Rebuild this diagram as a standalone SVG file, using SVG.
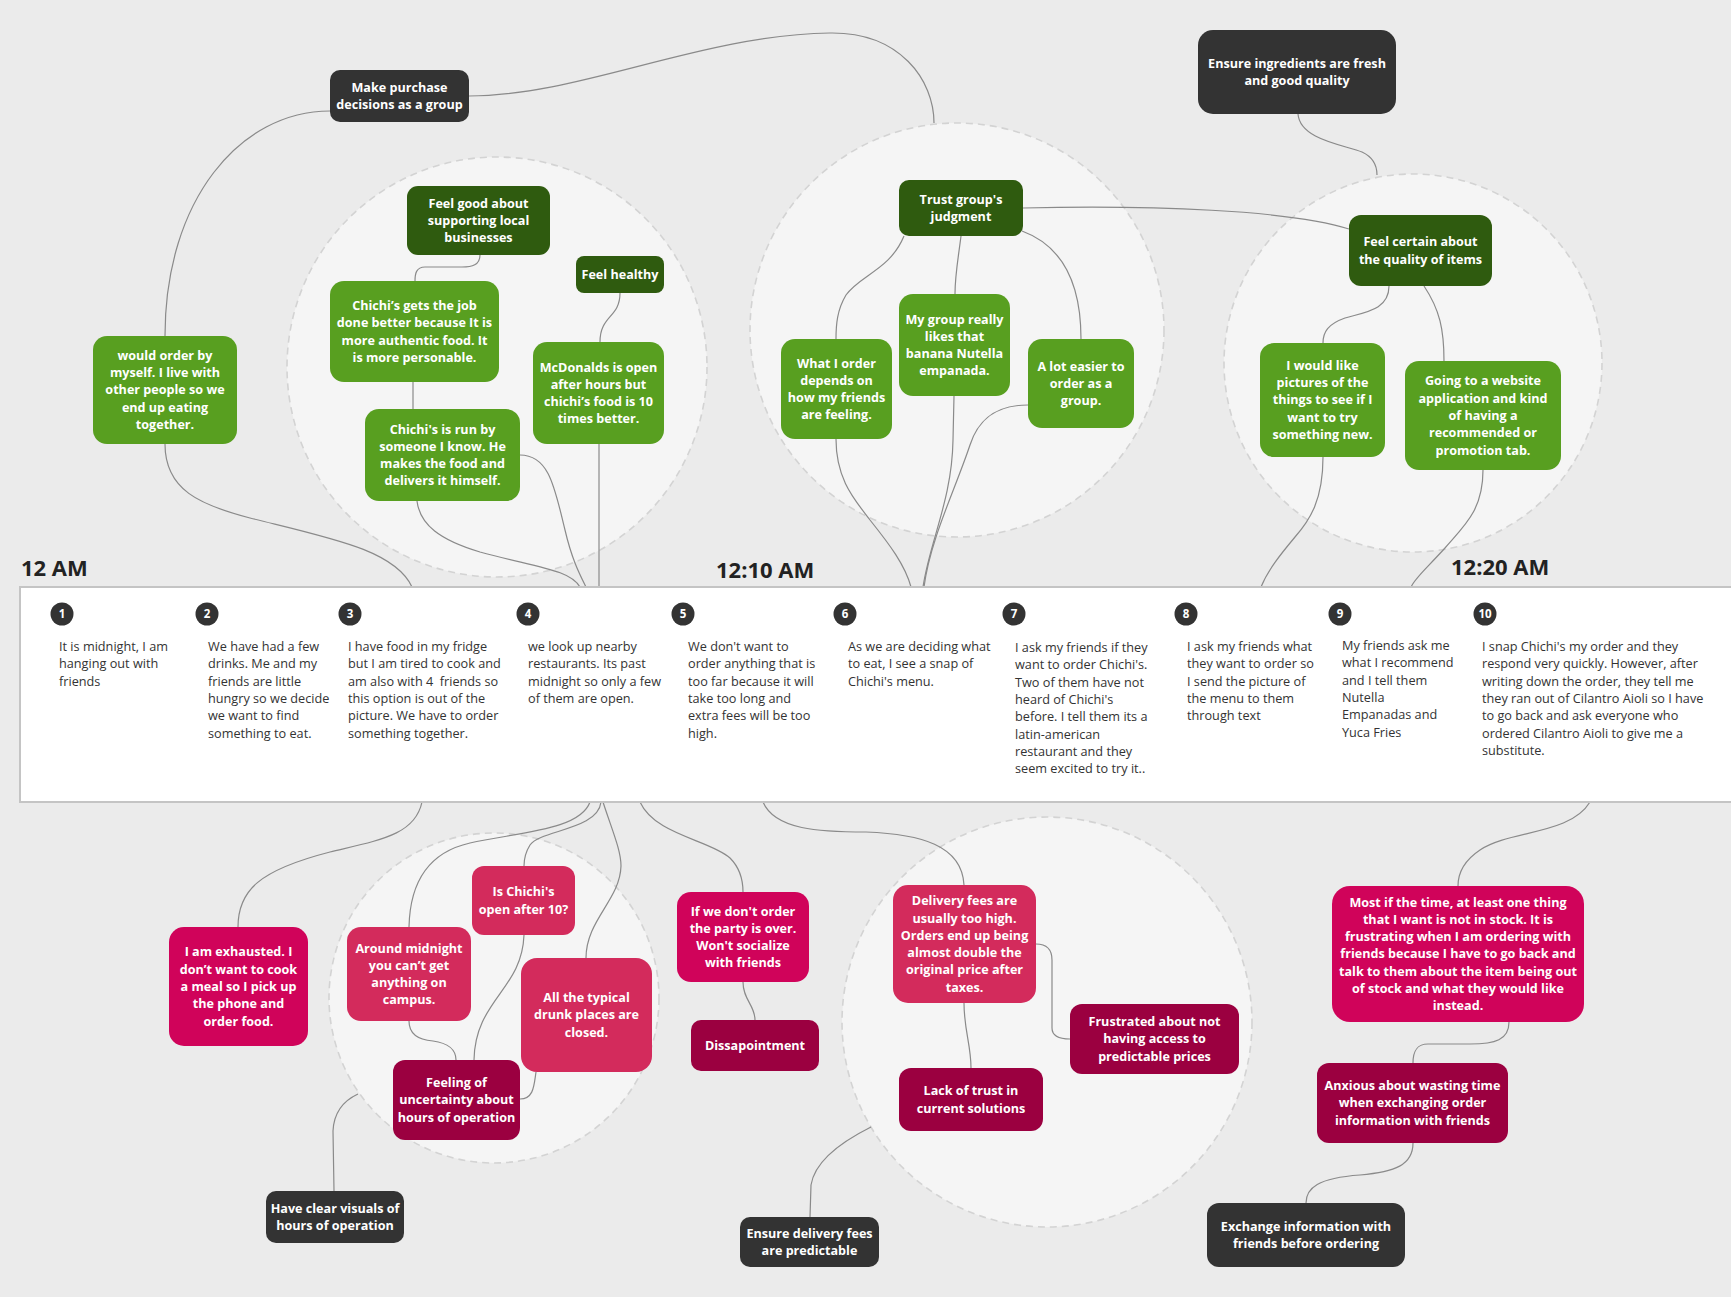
<svg xmlns="http://www.w3.org/2000/svg" width="1731" height="1297" viewBox="0 0 1731 1297">
<style>
.circ{fill:#f5f5f5;stroke:#d3d3d3;stroke-width:1.6;stroke-dasharray:7 5}
.conn path{fill:none;stroke:#8a8a8a;stroke-width:1.2}
.g{fill:#589f20}.dg{fill:#2f5b0f}.dk{fill:#333333}.pk{fill:#d0035a}.rs{fill:#d32b5c}.mr{fill:#9b0040}
.t{font-family:"Open Sans","Liberation Sans",sans-serif;font-weight:700;font-size:12.6px;fill:#ffffff;text-anchor:middle}
.tl{font-family:"Open Sans","Liberation Sans",sans-serif;font-size:12.7px;fill:#333333}
.time{font-family:"Open Sans","Liberation Sans",sans-serif;font-weight:700;font-size:22px;fill:#222222}
.num circle{fill:#333333}
.num text{font-family:"Open Sans","Liberation Sans",sans-serif;font-weight:700;font-size:11.5px;fill:#ffffff;text-anchor:middle}
</style>
<rect width="1731" height="1297" fill="#ebebeb"/>
<g id="groups">
<circle class="circ" cx="497" cy="367" r="210"/>
<circle class="circ" cx="957" cy="330" r="207"/>
<circle class="circ" cx="1413" cy="363" r="189"/>
<circle class="circ" cx="494" cy="998" r="165"/>
<circle class="circ" cx="1047" cy="1022" r="205"/>
</g>
<g id="connectors" class="conn">
<path d="M330,111 C240,111 165,200 165,336"/>
<path d="M469,96 C580,96 700,35 830,33 C900,32 934,80 934,123"/>
<path d="M480,255 C480,265 472,267 462,267 L425,267 C416,267 415,274 415,281"/>
<path d="M413,382 L413,409"/>
<path d="M620,293 C620,318 600,315 600,342"/>
<path d="M165,444 C165,490 200,505 250,518 C330,538 395,550 412,587"/>
<path d="M417,501 C420,525 440,540 480,552 C540,568 570,570 580,587"/>
<path d="M520,455 C550,455 555,490 565,530 C572,560 580,575 586,587"/>
<path d="M599,444 L599,587"/>
<path d="M904,236 C890,270 860,275 846,295 C837,310 836,325 836,339"/>
<path d="M961,236 C958,260 955,275 955,294"/>
<path d="M1022,231 C1060,245 1081,280 1081,339"/>
<path d="M1023,208 C1150,205 1290,210 1349,229"/>
<path d="M836,439 C836,480 855,500 870,520 C890,545 905,565 911,587"/>
<path d="M954,396 L953,440 C952,500 930,540 923,587"/>
<path d="M1028,405 C995,405 978,420 970,445 C955,490 930,540 924,587"/>
<path d="M1298,114 C1300,140 1345,145 1362,152 C1375,158 1377,168 1377,175"/>
<path d="M1389,286 C1389,310 1365,312 1345,318 C1328,324 1323,332 1323,343"/>
<path d="M1424,286 C1440,310 1444,330 1444,361"/>
<path d="M1323,457 C1323,500 1310,520 1295,537 C1280,555 1268,570 1261,587"/>
<path d="M1483,470 C1483,510 1465,525 1445,548 C1425,570 1415,578 1411,587"/>
<path d="M422,802 C415,835 380,840 330,852 C260,870 238,890 238,927"/>
<path d="M590,802 C580,830 520,832 470,843 C430,852 410,880 409,927"/>
<path d="M601,802 C598,830 540,830 530,845 C525,853 524,860 524,866"/>
<path d="M603,802 C612,830 621,850 621,866 C620,900 586,920 586,958"/>
<path d="M640,802 C655,835 710,840 730,858 C740,868 743,880 743,892"/>
<path d="M409,1021 C409,1035 420,1040 433,1041 C448,1043 456,1050 456,1060"/>
<path d="M524,935 C522,990 475,1000 474,1060"/>
<path d="M536,1072 C534,1085 534,1099 520,1099"/>
<path d="M743,982 C743,1000 755,1005 755,1020"/>
<path d="M334,1191 L333,1131 C334,1110 345,1100 358,1094"/>
<path d="M763,802 C775,830 820,832 866,832 C920,834 962,845 964,885"/>
<path d="M1036,944 C1048,944 1052,950 1052,960 L1052,1028 C1052,1036 1060,1039 1070,1039"/>
<path d="M964,1003 C964,1030 971,1045 971,1068"/>
<path d="M810,1217 L811,1185 C815,1160 845,1140 871,1127"/>
<path d="M1590,802 C1570,835 1510,830 1480,850 C1462,862 1458,875 1458,886"/>
<path d="M1509,1022 C1509,1040 1495,1044 1470,1044 L1428,1044 C1416,1044 1413,1052 1413,1063"/>
<path d="M1413,1143 C1413,1165 1395,1172 1360,1175 C1318,1178 1306,1188 1306,1203"/>
</g>
<g id="timeline">
<rect x="20" y="587" width="1730" height="215" fill="#ffffff" stroke="#c4c4c4" stroke-width="2"/>
<text class="time" x="21" y="576">12 AM</text>
<text class="time" x="716" y="578">12:10 AM</text>
<text class="time" x="1451" y="575">12:20 AM</text>
<g class="num">
<circle cx="62" cy="614" r="11.5"/><text x="62" y="618">1</text>
<circle cx="207" cy="614" r="11.5"/><text x="207" y="618">2</text>
<circle cx="350" cy="614" r="11.5"/><text x="350" y="618">3</text>
<circle cx="528" cy="614" r="11.5"/><text x="528" y="618">4</text>
<circle cx="683" cy="614" r="11.5"/><text x="683" y="618">5</text>
<circle cx="845" cy="614" r="11.5"/><text x="845" y="618">6</text>
<circle cx="1014" cy="614" r="11.5"/><text x="1014" y="618">7</text>
<circle cx="1186" cy="614" r="11.5"/><text x="1186" y="618">8</text>
<circle cx="1340" cy="614" r="11.5"/><text x="1340" y="618">9</text>
<circle cx="1485" cy="614" r="11.5"/><text x="1485" y="618">10</text>
</g>
<text class="tl" y="651"><tspan x="59">It is midnight, I am</tspan><tspan x="59" dy="17.3">hanging out with</tspan><tspan x="59" dy="17.3">friends</tspan></text>
<text class="tl" y="651"><tspan x="208">We have had a few</tspan><tspan x="208" dy="17.3">drinks. Me and my</tspan><tspan x="208" dy="17.3">friends are little</tspan><tspan x="208" dy="17.3">hungry so we decide</tspan><tspan x="208" dy="17.3">we want to find</tspan><tspan x="208" dy="17.3">something to eat.</tspan></text>
<text class="tl" y="651"><tspan x="348">I have food in my fridge</tspan><tspan x="348" dy="17.3">but I am tired to cook and</tspan><tspan x="348" dy="17.3">am also with 4&#160; friends so</tspan><tspan x="348" dy="17.3">this option is out of the</tspan><tspan x="348" dy="17.3">picture. We have to order</tspan><tspan x="348" dy="17.3">something together.</tspan></text>
<text class="tl" y="651"><tspan x="528">we look up nearby</tspan><tspan x="528" dy="17.3">restaurants. Its past</tspan><tspan x="528" dy="17.3">midnight so only a few</tspan><tspan x="528" dy="17.3">of them are open.</tspan></text>
<text class="tl" y="651"><tspan x="688">We don't want to</tspan><tspan x="688" dy="17.3">order anything that is</tspan><tspan x="688" dy="17.3">too far because it will</tspan><tspan x="688" dy="17.3">take too long and</tspan><tspan x="688" dy="17.3">extra fees will be too</tspan><tspan x="688" dy="17.3">high.</tspan></text>
<text class="tl" y="651"><tspan x="848">As we are deciding what</tspan><tspan x="848" dy="17.3">to eat, I see a snap of</tspan><tspan x="848" dy="17.3">Chichi's menu.</tspan></text>
<text class="tl" y="652"><tspan x="1015">I ask my friends if they</tspan><tspan x="1015" dy="17.3">want to order Chichi's.</tspan><tspan x="1015" dy="17.3">Two of them have not</tspan><tspan x="1015" dy="17.3">heard of Chichi's</tspan><tspan x="1015" dy="17.3">before. I tell them its a</tspan><tspan x="1015" dy="17.3">latin-american</tspan><tspan x="1015" dy="17.3">restaurant and they</tspan><tspan x="1015" dy="17.3">seem excited to try it..</tspan></text>
<text class="tl" y="651"><tspan x="1187">I ask my friends what</tspan><tspan x="1187" dy="17.3">they want to order so</tspan><tspan x="1187" dy="17.3">I send the picture of</tspan><tspan x="1187" dy="17.3">the menu to them</tspan><tspan x="1187" dy="17.3">through text</tspan></text>
<text class="tl" y="650"><tspan x="1342">My friends ask me</tspan><tspan x="1342" dy="17.3">what I recommend</tspan><tspan x="1342" dy="17.3">and I tell them</tspan><tspan x="1342" dy="17.3">Nutella</tspan><tspan x="1342" dy="17.3">Empanadas and</tspan><tspan x="1342" dy="17.3">Yuca Fries</tspan></text>
<text class="tl" y="651"><tspan x="1482">I snap Chichi's my order and they</tspan><tspan x="1482" dy="17.3">respond very quickly. However, after</tspan><tspan x="1482" dy="17.3">writing down the order, they tell me</tspan><tspan x="1482" dy="17.3">they ran out of Cilantro Aioli so I have</tspan><tspan x="1482" dy="17.3">to go back and ask everyone who</tspan><tspan x="1482" dy="17.3">ordered Cilantro Aioli to give me a</tspan><tspan x="1482" dy="17.3">substitute.</tspan></text>
</g>
<g id="n-make-purchase"><rect class="dk" x="330" y="70" width="139" height="52" rx="10"/><text class="t"><tspan x="399.5" y="91.8">Make purchase</tspan><tspan x="399.5" y="109.1">decisions as a group</tspan></text></g>
<g id="n-feel-good"><rect class="dg" x="407" y="186" width="143" height="69" rx="11"/><text class="t"><tspan x="478.5" y="207.6">Feel good about</tspan><tspan x="478.5" y="224.9">supporting local</tspan><tspan x="478.5" y="242.2">businesses</tspan></text></g>
<g id="n-feel-healthy"><rect class="dg" x="576" y="256" width="88" height="37" rx="8"/><text class="t"><tspan x="620" y="278.9">Feel healthy</tspan></text></g>
<g id="n-chichis-gets"><rect class="g" x="330" y="281" width="169" height="101" rx="14"/><text class="t"><tspan x="414.5" y="310">Chichi’s gets the job</tspan><tspan x="414.5" y="327.3">done better because It is</tspan><tspan x="414.5" y="344.6">more authentic food. It</tspan><tspan x="414.5" y="361.9">is more personable.</tspan></text></g>
<g id="n-run-by"><rect class="g" x="365" y="409" width="155" height="92" rx="14"/><text class="t"><tspan x="442.5" y="433.5">Chichi's is run by</tspan><tspan x="442.5" y="450.8">someone I know. He</tspan><tspan x="442.5" y="468.1">makes the food and</tspan><tspan x="442.5" y="485.4">delivers it himself.</tspan></text></g>
<g id="n-mcdonalds"><rect class="g" x="533" y="342" width="131" height="102" rx="14"/><text class="t"><tspan x="598.5" y="371.5">McDonalds is open</tspan><tspan x="598.5" y="388.8">after hours but</tspan><tspan x="598.5" y="406.1">chichi’s food is 10</tspan><tspan x="598.5" y="423.4">times better.</tspan></text></g>
<g id="n-would-order"><rect class="g" x="93" y="336" width="144" height="108" rx="14"/><text class="t"><tspan x="165" y="359.8">would order by</tspan><tspan x="165" y="377.1">myself. I live with</tspan><tspan x="165" y="394.4">other people so we</tspan><tspan x="165" y="411.7">end up eating</tspan><tspan x="165" y="429">together.</tspan></text></g>
<g id="n-trust"><rect class="dg" x="899" y="180" width="124" height="56" rx="10"/><text class="t"><tspan x="961" y="203.8">Trust group's</tspan><tspan x="961" y="221.1">judgment</tspan></text></g>
<g id="n-what-i-order"><rect class="g" x="781" y="339" width="111" height="100" rx="14"/><text class="t"><tspan x="836.5" y="367.5">What I order</tspan><tspan x="836.5" y="384.8">depends on</tspan><tspan x="836.5" y="402.1">how my friends</tspan><tspan x="836.5" y="419.4">are feeling.</tspan></text></g>
<g id="n-my-group"><rect class="g" x="899" y="294" width="111" height="102" rx="14"/><text class="t"><tspan x="954.5" y="323.5">My group really</tspan><tspan x="954.5" y="340.8">likes that</tspan><tspan x="954.5" y="358.1">banana Nutella</tspan><tspan x="954.5" y="375.4">empanada.</tspan></text></g>
<g id="n-lot-easier"><rect class="g" x="1028" y="339" width="106" height="89" rx="14"/><text class="t"><tspan x="1081" y="370.6">A lot easier to</tspan><tspan x="1081" y="387.9">order as a</tspan><tspan x="1081" y="405.2">group.</tspan></text></g>
<g id="n-ensure-ingredients"><rect class="dk" x="1198" y="30" width="198" height="84" rx="15"/><text class="t"><tspan x="1297" y="67.8">Ensure ingredients are fresh</tspan><tspan x="1297" y="85.1">and good quality</tspan></text></g>
<g id="n-feel-certain"><rect class="dg" x="1349" y="215" width="143" height="71" rx="12"/><text class="t"><tspan x="1420.5" y="246.3">Feel certain about</tspan><tspan x="1420.5" y="263.6">the quality of items</tspan></text></g>
<g id="n-pictures"><rect class="g" x="1260" y="343" width="125" height="114" rx="14"/><text class="t"><tspan x="1322.5" y="369.8">I would like</tspan><tspan x="1322.5" y="387.1">pictures of the</tspan><tspan x="1322.5" y="404.4">things to see if I</tspan><tspan x="1322.5" y="421.7">want to try</tspan><tspan x="1322.5" y="439">something new.</tspan></text></g>
<g id="n-website"><rect class="g" x="1405" y="361" width="156" height="109" rx="14"/><text class="t"><tspan x="1483" y="385.3">Going to a website</tspan><tspan x="1483" y="402.6">application and kind</tspan><tspan x="1483" y="419.9">of having a</tspan><tspan x="1483" y="437.2">recommended or</tspan><tspan x="1483" y="454.5">promotion tab.</tspan></text></g>
<g id="n-exhausted"><rect class="pk" x="169" y="927" width="139" height="119" rx="15"/><text class="t"><tspan x="238.5" y="956.3">I am exhausted. I</tspan><tspan x="238.5" y="973.6">don’t want to cook</tspan><tspan x="238.5" y="990.9">a meal so I pick up</tspan><tspan x="238.5" y="1008.2">the phone and</tspan><tspan x="238.5" y="1025.5">order food.</tspan></text></g>
<g id="n-around-midnight"><rect class="rs" x="347" y="927" width="124" height="94" rx="14"/><text class="t"><tspan x="409" y="952.5">Around midnight</tspan><tspan x="409" y="969.8">you can’t get</tspan><tspan x="409" y="987.1">anything on</tspan><tspan x="409" y="1004.4">campus.</tspan></text></g>
<g id="n-is-open"><rect class="rs" x="472" y="866" width="103" height="69" rx="12"/><text class="t"><tspan x="523.5" y="896.3">Is Chichi's</tspan><tspan x="523.5" y="913.6">open after 10?</tspan></text></g>
<g id="n-drunk-places"><rect class="rs" x="521" y="958" width="131" height="114" rx="16"/><text class="t"><tspan x="586.5" y="1002.1">All the typical</tspan><tspan x="586.5" y="1019.4">drunk places are</tspan><tspan x="586.5" y="1036.7">closed.</tspan></text></g>
<g id="n-uncertainty"><rect class="mr" x="393" y="1060" width="127" height="80" rx="12"/><text class="t"><tspan x="456.5" y="1087.1">Feeling of</tspan><tspan x="456.5" y="1104.4">uncertainty about</tspan><tspan x="456.5" y="1121.7">hours of operation</tspan></text></g>
<g id="n-clear-visuals"><rect class="dk" x="266" y="1191" width="138" height="52" rx="10"/><text class="t"><tspan x="335" y="1212.8">Have clear visuals of</tspan><tspan x="335" y="1230.1">hours of operation</tspan></text></g>
<g id="n-party-over"><rect class="pk" x="677" y="892" width="132" height="90" rx="14"/><text class="t"><tspan x="743" y="915.5">If we don't order</tspan><tspan x="743" y="932.8">the party is over.</tspan><tspan x="743" y="950.1">Won't socialize</tspan><tspan x="743" y="967.4">with friends</tspan></text></g>
<g id="n-dissapointment"><rect class="mr" x="691" y="1020" width="128" height="51" rx="10"/><text class="t"><tspan x="755" y="1049.9">Dissapointment</tspan></text></g>
<g id="n-delivery-fees"><rect class="rs" x="893" y="885" width="143" height="118" rx="15"/><text class="t"><tspan x="964.5" y="905.2">Delivery fees are</tspan><tspan x="964.5" y="922.5">usually too high.</tspan><tspan x="964.5" y="939.8">Orders end up being</tspan><tspan x="964.5" y="957.1">almost double the</tspan><tspan x="964.5" y="974.4">original price after</tspan><tspan x="964.5" y="991.7">taxes.</tspan></text></g>
<g id="n-frustrated"><rect class="mr" x="1070" y="1004" width="169" height="70" rx="12"/><text class="t"><tspan x="1154.5" y="1026.1">Frustrated about not</tspan><tspan x="1154.5" y="1043.4">having access to</tspan><tspan x="1154.5" y="1060.7">predictable prices</tspan></text></g>
<g id="n-lack-trust"><rect class="mr" x="899" y="1068" width="144" height="63" rx="12"/><text class="t"><tspan x="971" y="1095.3">Lack of trust in</tspan><tspan x="971" y="1112.6">current solutions</tspan></text></g>
<g id="n-ensure-fees"><rect class="dk" x="740" y="1217" width="139" height="50" rx="10"/><text class="t"><tspan x="809.5" y="1237.8">Ensure delivery fees</tspan><tspan x="809.5" y="1255.1">are predictable</tspan></text></g>
<g id="n-out-of-stock"><rect class="pk" x="1332" y="886" width="252" height="136" rx="18"/><text class="t"><tspan x="1458" y="906.5">Most if the time, at least one thing</tspan><tspan x="1458" y="923.8">that I want is not in stock. It is</tspan><tspan x="1458" y="941.1">frustrating when I am ordering with</tspan><tspan x="1458" y="958.4">friends because I have to go back and</tspan><tspan x="1458" y="975.7">talk to them about the item being out</tspan><tspan x="1458" y="993">of stock and what they would like</tspan><tspan x="1458" y="1010.3">instead.</tspan></text></g>
<g id="n-anxious"><rect class="mr" x="1317" y="1063" width="191" height="80" rx="12"/><text class="t"><tspan x="1412.5" y="1090.1">Anxious about wasting time</tspan><tspan x="1412.5" y="1107.4">when exchanging order</tspan><tspan x="1412.5" y="1124.7">information with friends</tspan></text></g>
<g id="n-exchange"><rect class="dk" x="1207" y="1203" width="198" height="64" rx="12"/><text class="t"><tspan x="1306" y="1230.8">Exchange information with</tspan><tspan x="1306" y="1248.1">friends before ordering</tspan></text></g>
</svg>
